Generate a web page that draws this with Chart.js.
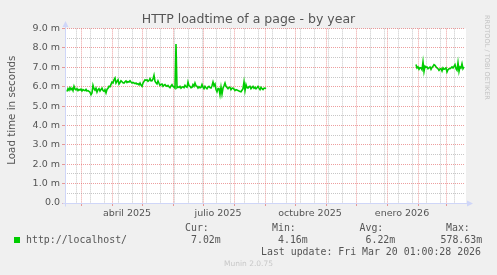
<!DOCTYPE html>
<html><head><meta charset="utf-8">
<script src="https://cdn.jsdelivr.net/npm/chart.js@4/dist/chart.umd.min.js"></script>
<style>
html,body{margin:0;padding:0;background:#f0f0f0;}
#wrap{position:relative;width:497px;height:275px;overflow:hidden;font-family:"DejaVu Sans",sans-serif;}
canvas{position:absolute;left:0;top:0;}
.t{position:absolute;white-space:nowrap;line-height:1;color:#555;}
.mono{font-family:"DejaVu Sans Mono",monospace;font-size:9.9px;}
</style></head><body>
<div id="wrap">
<canvas id="c" width="497" height="275"></canvas>
<div class="t" style="left:0;width:497px;text-align:center;top:12.7px;font-size:12.5px;">HTTP loadtime of a page - by year</div>
<div class="t" style="left:-88.6px;width:200px;text-align:center;top:105.25px;font-size:10.3px;transform:rotate(-90deg);">Load time in seconds</div>
<div class="t" style="left:489.5px;top:14.5px;font-size:6.6px;color:#c4c4c4;transform:rotate(90deg);transform-origin:0 0;">RRDTOOL / TOBI OETIKER</div>
<div style="position:absolute;left:14px;top:237.3px;width:5.5px;height:6px;background:#00cc00;"></div>
<div class="t mono" id="series" style="left:26px;top:234.9px;"></div>
<div id="stats"></div>
<div class="t mono" id="upd" style="left:261px;top:247.3px;"></div>
<div class="t" style="left:0;width:497px;text-align:center;top:260.4px;font-size:7.5px;color:#c8c8c8;">Munin 2.0.75</div>
</div>
<script>
// ---- data (values in milliseconds, "m" units) ----
const seriesName = 'http://localhost/';
const segment1StartDay = 2;   // days since 2025-02-13 (graph start)
const segment1Values = [
  5.75,5.90,5.82,5.95,5.85,5.92,5.80,6.02,5.88,5.84,
  5.90,5.80,5.86,5.83,5.88,5.78,5.85,5.82,5.80,5.86,
  5.78,5.80,5.76,5.72,5.59,5.68,6.07,5.90,5.82,5.92,
  5.73,5.85,5.90,5.78,5.86,5.93,5.80,5.76,5.85,5.68,
  5.86,5.92,6.02,6.00,6.12,6.24,6.20,6.36,6.45,6.19,
  6.28,6.36,6.14,6.22,6.31,6.26,6.20,6.19,6.25,6.30,
  6.22,6.26,6.24,6.31,6.24,6.19,6.22,6.19,6.16,6.19,
  6.14,6.16,6.10,6.19,6.08,6.02,6.19,6.28,6.36,6.33,
  6.36,6.28,6.32,6.42,6.30,6.31,6.40,6.59,6.28,6.20,
  6.14,6.30,6.18,6.07,6.12,6.14,6.02,6.08,6.11,6.05,
  6.02,6.07,6.00,5.95,6.04,6.11,6.02,5.98,5.93,8.20,
  5.95,6.00,5.96,6.02,5.93,5.98,6.00,5.95,6.07,6.00,
  5.97,6.24,6.05,6.02,5.95,5.97,6.11,6.02,6.19,6.05,
  6.02,5.93,6.00,5.95,5.97,6.11,5.98,5.90,6.02,5.95,
  5.90,5.98,6.02,5.95,5.93,6.05,6.24,6.05,6.14,5.86,
  5.74,5.90,5.90,5.59,5.97,5.62,5.93,6.05,6.19,6.02,
  5.96,5.90,5.97,5.97,5.85,5.92,5.93,5.88,5.80,5.85,
  5.83,5.80,5.78,5.76,5.74,5.82,5.90,6.24,5.80,6.11,
  5.95,5.93,6.00,6.02,5.90,5.96,6.02,5.92,5.97,5.90,
  5.95,6.02,5.93,5.85,5.97,5.90,5.85,5.92,5.93,5.90
];
const segment2StartDay = 351;
const segment2Values = [
  7.15,6.97,7.02,6.90,6.98,6.97,6.88,7.28,6.79,7.06,
  7.00,7.02,6.93,6.98,7.02,6.90,7.00,7.06,7.14,7.10,
  7.03,6.97,6.93,6.85,6.92,6.93,6.81,6.97,6.90,6.93,
  6.97,6.76,6.88,6.93,6.93,6.97,7.02,6.97,7.05,7.14,
  6.93,6.85,7.24,6.79,7.02,6.97,7.19,6.93,7.02
];
const xLabelDays = [62, 153, 245, 337];
const xLabels = ['abril 2025', 'julio 2025', 'octubre 2025', 'enero 2026'];
const monthStartDays = [16, 47, 77, 108, 138, 169, 200, 230, 261, 291, 322, 353, 381];
const minorDays = [11,25,39,53,67,81,95,109,123,137,151,165,179,193,207,221,235,249,263,277,305,319,333,347,361,375,389];
const yMajorValues = [0,1,2,3,4,5,6,7,8,9];
const yMajorLabels = ['0.0','1.0 m','2.0 m','3.0 m','4.0 m','5.0 m','6.0 m','7.0 m','8.0 m','9.0 m'];
const yMinorValues = [0.5,1.5,2.5,3.5,4.5,5.5,6.5,7.5,8.5];
const statLabels = ['Cur:', 'Min:', 'Avg:', 'Max:'];
const statValues = ['7.02m', '4.16m', '6.22m', '578.63m'];
const lastUpdate = 'Last update: Fri Mar 20 01:00:28 2026';

// ---- legend text ----
document.getElementById('series').textContent = seriesName;
document.getElementById('upd').textContent = lastUpdate;
const labelLeft = [185, 272, 359.5, 446];
const valueLeft = [191, 278, 365.5, 440.5];
const st = document.getElementById('stats');
statLabels.forEach((l, i) => {
  const a = document.createElement('div'); a.className = 't mono'; a.style.left = labelLeft[i] + 'px'; a.style.top = '223.3px'; a.textContent = l; st.appendChild(a);
  const b = document.createElement('div'); b.className = 't mono'; b.style.left = valueLeft[i] + 'px'; b.style.top = '234.9px'; b.textContent = statValues[i]; st.appendChild(b);
});

const toPoints = (start, vals) => vals.map((v, i) => ({x: start + i, y: v}));
const RED = 'rgba(222,79,79,0.55)';
const GRAY = 'rgba(143,143,143,0.5)';
const AXIS = '#cfd6f8';
const monthSet = new Set(monthStartDays);
const labelMap = new Map(xLabelDays.map((d, i) => [d, xLabels[i]]));
const yLabelMap = new Map(yMajorValues.map((v, i) => [v, yMajorLabels[i]]));

const frame = {
  id: 'frame',
  beforeDraw(chart) {
    const {ctx, chartArea: a} = chart;
    ctx.save(); ctx.fillStyle = '#ffffff';
    ctx.fillRect(a.left, a.top, a.right - a.left + 1, a.bottom - a.top);
    ctx.restore();
  },
  afterDraw(chart) {
    const {ctx, chartArea: a} = chart;
    const x0 = Math.floor(a.left) + 0.5, y0 = Math.floor(a.bottom) + 0.5;
    ctx.save();
    ctx.strokeStyle = AXIS; ctx.fillStyle = AXIS; ctx.lineWidth = 1;
    ctx.beginPath();
    ctx.moveTo(x0, y0 + 3); ctx.lineTo(x0, a.top - 3);
    ctx.moveTo(x0 - 3, y0); ctx.lineTo(a.right + 3, y0);
    ctx.stroke();
    ctx.beginPath();
    ctx.moveTo(x0, a.top - 7.5); ctx.lineTo(x0 - 3, a.top - 1.5); ctx.lineTo(x0 + 3, a.top - 1.5); ctx.closePath(); ctx.fill();
    ctx.beginPath();
    ctx.moveTo(a.right + 8, y0); ctx.lineTo(a.right + 2, y0 - 3); ctx.lineTo(a.right + 2, y0 + 3); ctx.closePath(); ctx.fill();
    ctx.restore();
  }
};

new Chart(document.getElementById('c'), {
  type: 'line',
  data: {
    datasets: [
      {data: toPoints(segment1StartDay, segment1Values), borderColor: '#00cc00', borderWidth: 1.6, pointRadius: 0, tension: 0, fill: false},
      {data: toPoints(segment2StartDay, segment2Values), borderColor: '#00cc00', borderWidth: 1.6, pointRadius: 0, tension: 0, fill: false}
    ]
  },
  options: {
    responsive: false, animation: false, devicePixelRatio: 1, events: [],
    layout: {padding: {top: 28.6, right: 32, left: 0, bottom: 0}},
    plugins: {legend: {display: false}, tooltip: {enabled: false}, title: {display: false}},
    scales: {
      x: {
        type: 'linear', min: 0, max: 400,
        afterFit(s) { s.height = 72; },
        afterBuildTicks(s) {
          const vals = [...minorDays, ...monthStartDays, ...xLabelDays].sort((a, b) => a - b);
          s.ticks = vals.map(v => ({value: v}));
        },
        grid: {
          color: c => c.tick ? (monthSet.has(c.tick.value) ? RED : (labelMap.has(c.tick.value) ? 'rgba(0,0,0,0)' : GRAY)) : GRAY,
          tickColor: c => c.tick && monthSet.has(c.tick.value) ? RED : 'rgba(0,0,0,0)',
          tickLength: 3, lineWidth: 1
        },
        border: {display: false, dash: [1, 1]},
        ticks: {
          autoSkip: false, maxRotation: 0, minRotation: 0, padding: 2,
          color: '#555', font: {family: 'DejaVu Sans', size: 9.5},
          callback: v => labelMap.has(v) ? labelMap.get(v) : ''
        }
      },
      y: {
        type: 'linear', min: 0, max: 9,
        afterFit(s) { s.width = 65; },
        afterBuildTicks(s) {
          const vals = [...yMajorValues, ...yMinorValues].sort((a, b) => a - b);
          s.ticks = vals.map(v => ({value: v}));
        },
        grid: {
          color: c => c.tick && yLabelMap.has(c.tick.value) ? RED : GRAY,
          tickColor: c => c.tick && yLabelMap.has(c.tick.value) ? RED : 'rgba(0,0,0,0)',
          tickLength: 3, lineWidth: 1
        },
        border: {display: false, dash: [1, 1]},
        ticks: {
          autoSkip: false, padding: 2,
          color: '#555', font: {family: 'DejaVu Sans', size: 9.5},
          callback: v => yLabelMap.has(v) ? yLabelMap.get(v) : ''
        }
      }
    }
  },
  plugins: [frame]
});
</script>
</body></html>
